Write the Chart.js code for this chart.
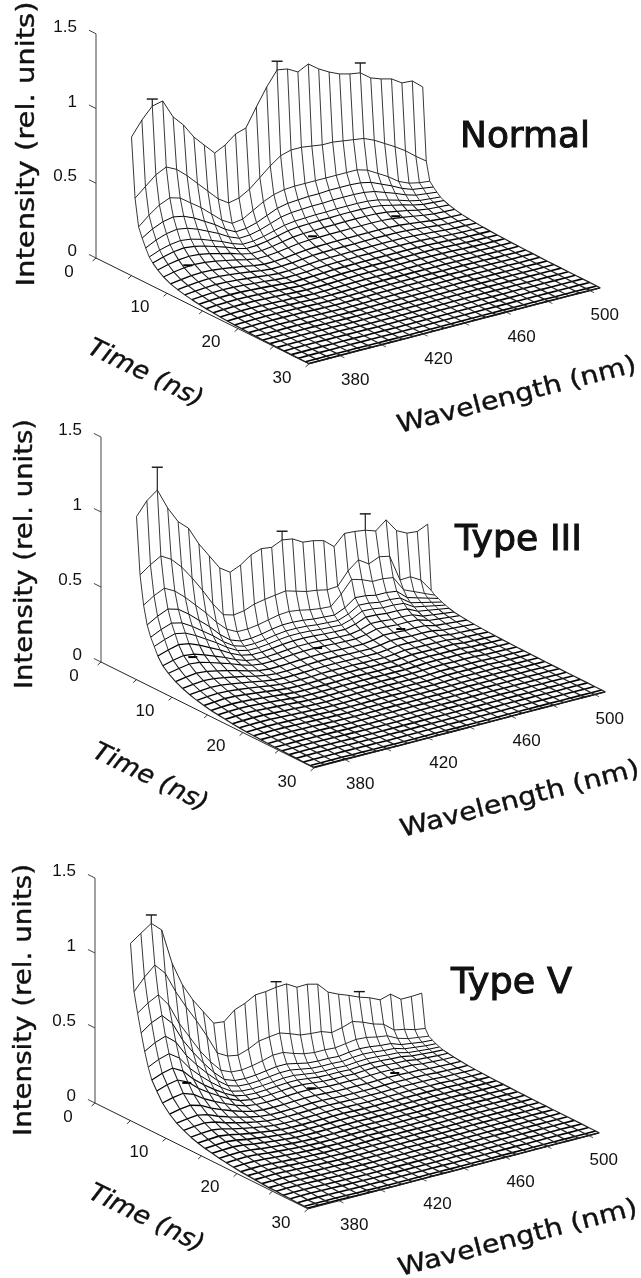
<!DOCTYPE html>
<html><head><meta charset="utf-8">
<script src="https://cdn.jsdelivr.net/npm/chart.js@4"></script>
<style>
html,body{margin:0;padding:0;background:#fff;width:641px;height:1278px;overflow:hidden}
canvas{position:absolute;left:0}
</style></head><body>
<canvas id="c1"></canvas><canvas id="c2"></canvas><canvas id="c3"></canvas>
<script>
const wavelengths=[365,370,375,380,385,390,395,400,405,410,415,420,425,430,435,440,445,450,455,460,465,470,475,480,485,490,495,500,505];
const times=[5,5.5,6,6.5,7,7.5,8,8.7,9.5,10.5,11.5,12.5,13.5,14.5,15.5,16.5,17.5,18.5,19.5,20.5,21.5,22.5,23.5,24.5,25.5,26.5,27.5,28.5,29.5,30];
const intensityTicks=[0,0.5,1,1.5];
const intensityLabels=['0','0.5','1','1.5'];
const timeTicks=[0,5,10,15,20,25,30];
const timeLabels=[[0,'0'],[10,'10'],[20,'20'],[30,'30']];
const wavelengthTicks=[380,400,420,440,460,480,500];
const wavelengthLabels=[[380,'380'],[420,'420'],[460,'460'],[500,'500']];

// Normal: rows at 5, 5.5, 6, 6.5 ns, then decay of the last row
const normalT5=[.927,1.023,1.098,1.114,.989,.917,.818,.746,.675,.710,.766,.788,.910,1.026,1.122,1.11,1.072,1.107,1.056,1.017,.986,.968,.957,.905,.880,.862,.817,.812,.754];
const normalT55=[.53,.59,.65,.684,.65,.59,.52,.45,.38,.335,.35,.39,.45,.51,.56,.58,.58,.57,.56,.56,.55,.54,.53,.50,.46,.42,.375,.32,.27];
const normalT6=[.35,.41,.46,.49,.47,.42,.37,.31,.25,.21,.22,.26,.30,.33,.345,.35,.35,.35,.35,.35,.35,.35,.33,.29,.25,.20,.17,.155,.147];
const normalT65=[.287,.33,.36,.374,.36,.33,.29,.25,.20,.165,.17,.19,.22,.25,.265,.27,.275,.275,.28,.28,.28,.275,.26,.23,.20,.165,.14,.13,.12];
const normalTail=[.81,.64,.54,.435,.34,.26,.21,.17,.14,.115,.095,.08,.065,.055,.045,.04,.03,.025,.02,.02,.015,.015,.01,.01,.01,.01];
const normalErrTop=[1.145,1.18,1.023];
const normalErrFloor=[.151,.127,.116];

// Type III
const typeIIIT5=[1.087,1.175,1.228,1.09,.981,.919,.796,.698,.60,.553,.583,.632,.656,.647,.678,.667,.627,.619,.601,.543,.613,.608,.598,.575,.631,.541,.506,.499,.53];
const typeIIIT55=[.71,.76,.80,.76,.69,.60,.50,.39,.30,.28,.29,.317,.33,.34,.35,.33,.31,.30,.285,.29,.375,.43,.385,.415,.40,.224,.227,.187,.10];
const typeIIIT6=[.52,.565,.597,.56,.50,.43,.36,.28,.215,.18,.18,.19,.205,.22,.225,.215,.20,.19,.185,.25,.33,.31,.28,.28,.27,.17,.14,.11,.08];
const typeIIIT65=[.40,.44,.47,.45,.40,.34,.28,.21,.155,.13,.13,.14,.155,.165,.165,.16,.15,.145,.14,.17,.22,.215,.20,.20,.19,.13,.11,.09,.07];
const typeIIITail=[.825,.70,.57,.45,.37,.29,.235,.19,.155,.13,.105,.09,.075,.06,.05,.04,.035,.03,.025,.02,.02,.015,.015,.01,.01,.01];
const typeIIIErrTop=[1.38,.736,.707];
const typeIIIErrFloor=[.232,.075,.057];

// Type V
const typeVT5=[1.182,1.231,1.279,1.217,.977,.814,.696,.60,.505,.497,.557,.583,.621,.625,.636,.64,.60,.602,.584,.513,.481,.455,.425,.403,.371,.391,.339,.339,.343];
const typeVT55=[.871,.95,1.013,.94,.80,.68,.57,.45,.318,.28,.267,.29,.325,.335,.343,.32,.293,.285,.28,.255,.27,.293,.27,.24,.22,.164,.15,.13,.12];
const typeVT6=[.74,.79,.826,.74,.60,.49,.38,.29,.215,.185,.18,.19,.205,.225,.225,.20,.18,.17,.17,.165,.175,.185,.18,.165,.155,.12,.10,.09,.08];
const typeVT65=[.62,.67,.70,.63,.50,.40,.31,.23,.165,.14,.135,.14,.15,.16,.16,.145,.13,.125,.125,.12,.13,.135,.13,.12,.115,.09,.08,.07,.065];
const typeVTail=[.82,.67,.55,.46,.36,.28,.22,.18,.145,.12,.10,.085,.07,.06,.05,.04,.035,.03,.025,.02,.02,.015,.015,.01,.01,.01];
const typeVErrTop=[1.335,.673,.462];
const typeVErrFloor=[.333,.08,.037];

const errWavelengths=[375,435,475];
const errFloorTime=10;

const panels=[
 {id:'c1',top:0,height:445,ox:96,oy:258,k:149.5,title:'Normal',tx:460,ty:147,tw:130,
  rows:[normalT5,normalT55,normalT6,normalT65],tail:normalTail,errTop:normalErrTop,errFloor:normalErrFloor,
  ylab:[28,144,285],time:[145,374,125],wave:[517,396,246]},
 {id:'c2',top:410,height:435,ox:101,oy:662,k:150,title:'Type III',tx:455,ty:550,tw:127,
  rows:[typeIIIT5,typeIIIT55,typeIIIT6,typeIIIT65],tail:typeIIITail,errTop:typeIIIErrTop,errFloor:typeIIIErrFloor,
  ylab:[26,554,270],time:[150,778,125],wave:[520,800,246]},
 {id:'c3',top:850,height:428,ox:95,oy:1103,k:150,title:'Type V',tx:451,ty:993,tw:121,
  rows:[typeVT5,typeVT55,typeVT6,typeVT65],tail:typeVTail,errTop:typeVErrTop,errFloor:typeVErrFloor,
  ylab:[25,1000,272],time:[146,1219,125],wave:[518,1239,246]}
];

function project(p,wl,t,I){
  return {x:p.ox+7.1*t+2.08*(wl-365), y:p.oy+3.53*t-0.543*(wl-365)-p.k*I};
}
function surface(p){
  const g=[];
  times.forEach((t,r)=>{
    g.push(r<4?p.rows[r]:p.rows[3].map(v=>v*p.tail[r-4]));
  });
  return g;
}
function line(points,width,color){
  return {data:points,showLine:true,borderColor:color,borderWidth:width,pointRadius:0,tension:0,fill:false,clip:false};
}
function rowWidth(r){return r<3?.9:r<6?1:r<9?1.15:r<13?1.35:1.6;}
function drawText(ctx,str,cx,cy,deg,font,len,skew,bold){
  ctx.save();ctx.font=font;ctx.fillStyle='#111';ctx.strokeStyle='#111';ctx.textAlign='center';ctx.textBaseline='middle';
  const w=ctx.measureText(str).width;
  ctx.translate(cx,cy);ctx.rotate(deg*Math.PI/180);
  if(skew)ctx.transform(1,0,skew,1,0,0);
  ctx.scale(len/w,1);
  ctx.fillText(str,0,0);
  if(bold){ctx.lineWidth=bold;ctx.strokeText(str,0,0);}
  ctx.restore();
}
const NUM='17px "Liberation Sans"';
function textPlugin(p){return {id:'labels'+p.id,afterDraw(chart){
  const ctx=chart.ctx,xs=chart.scales.x,ys=chart.scales.y;
  const px=a=>xs.getPixelForValue(a.x),py=a=>ys.getPixelForValue(a.y);
  ctx.save();ctx.fillStyle='#111';ctx.font=NUM;ctx.textBaseline='middle';
  ctx.textAlign='right';
  intensityTicks.forEach((v,i)=>{const a=project(p,365,0,v);ctx.fillText(intensityLabels[i],px(a)-19,py(a)-6.5);});
  ctx.textAlign='center';
  timeLabels.forEach(([t,s])=>{const a=project(p,365,t,0);ctx.fillText(s,px(a)-27,py(a)+14);});
  wavelengthLabels.forEach(([w,s])=>{const a=project(p,w,30,0);ctx.fillText(s,px(a)+15,py(a)+25);});
  ctx.restore();
  const tt=ys.getPixelForValue(p.ty);
  ctx.save();ctx.font='36px "DejaVu Sans"';ctx.fillStyle='#111';ctx.strokeStyle='#111';ctx.lineWidth=1;ctx.textBaseline='alphabetic';ctx.textAlign='left';
  const w=ctx.measureText(p.title).width;
  ctx.translate(p.tx,tt);ctx.scale(p.tw/w,1);ctx.fillText(p.title,0,0);ctx.strokeText(p.title,0,0);ctx.restore();
  drawText(ctx,'Intensity (rel. units)',p.ylab[0],ys.getPixelForValue(p.ylab[1]),-90,'24px "DejaVu Sans"',p.ylab[2],0,.4);
  drawText(ctx,'Time (ns)',p.time[0],ys.getPixelForValue(p.time[1]),26,'italic 25px "DejaVu Sans"',p.time[2],0,.4);
  drawText(ctx,'Wavelength (nm)',p.wave[0],ys.getPixelForValue(p.wave[1]),-14.5,'25px "DejaVu Sans"',p.wave[2],0,.4);
}};}
panels.forEach(p=>{
  const cv=document.getElementById(p.id);
  cv.width=641;cv.height=p.height;cv.style.top=p.top+'px';cv.style.width='641px';cv.style.height=p.height+'px';
  const g=surface(p),ds=[];
  const oz=project(p,365,0,0);
  ds.push(line([oz,project(p,365,0,1.5)],1,'#444'));
  ds.push(line([oz,project(p,365,30,0)],1,'#222'));
  ds.push(line([project(p,365,30,0),project(p,505,30,0)],1,'#222'));
  intensityTicks.forEach(v=>ds.push(line([project(p,365,0,v),project(p,365,-1,v)],1,'#444')));
  timeTicks.forEach(t=>ds.push(line([project(p,365,t,0),project(p,362,t+.4,0)],1,'#333')));
  wavelengthTicks.forEach(w=>ds.push(line([project(p,w,30,0),project(p,w,30.6,0)],1,'#555')));
  // wavelength-constant lines: thin on the wall, heavier across the floor
  wavelengths.forEach((w,c)=>{
    const d=line(times.map((t,r)=>project(p,w,t,g[r][c])),.9,'#222');
    d.segment={borderWidth:s=>s.p0DataIndex>=12?1.25:s.p0DataIndex>=6?1.05:.9};
    ds.push(d);
  });
  // time-constant lines
  times.forEach((t,r)=>ds.push(line(wavelengths.map((w,c)=>project(p,w,t,g[r][c])),rowWidth(r),r<3?'#111':'#000')));
  // error bars
  errWavelengths.forEach((w,i)=>{
    const c=wavelengths.indexOf(w);
    ds.push(line([project(p,w,5,g[0][c]),project(p,w,5,p.errTop[i])],1.2,'#222'));
    ds.push({data:[project(p,w,5,p.errTop[i])],showLine:false,pointStyle:'line',pointRadius:5.5,borderColor:'#111',borderWidth:1.4,clip:false});
    ds.push({data:[project(p,w,errFloorTime,p.errFloor[i])],showLine:false,pointStyle:'line',pointRadius:4.5,borderColor:'#000',borderWidth:2,clip:false});
  });
  new Chart(cv,{type:'scatter',data:{datasets:ds},plugins:[textPlugin(p)],options:{
    responsive:false,animation:false,maintainAspectRatio:false,
    layout:{padding:0,autoPadding:false},
    plugins:{legend:{display:false},tooltip:{enabled:false},title:{display:false}},
    scales:{
      x:{type:'linear',min:0,max:641,display:false},
      y:{type:'linear',min:p.top,max:p.top+p.height,reverse:true,display:false}
    }
  }});
});
</script></body></html>
